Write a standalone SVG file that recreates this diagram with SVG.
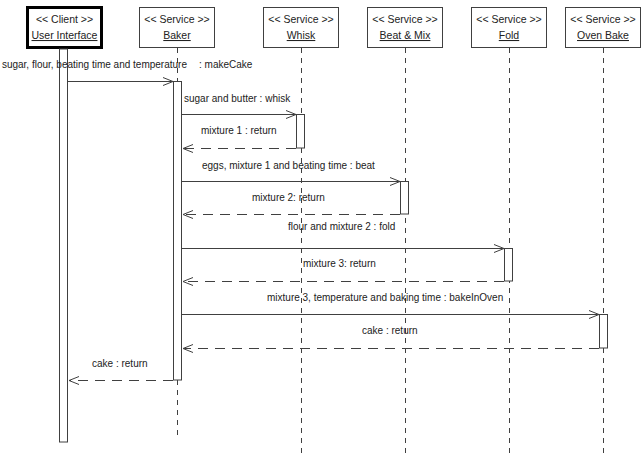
<svg xmlns="http://www.w3.org/2000/svg" width="644" height="464" viewBox="0 0 644 464">
<style>
.box{fill:#fff;stroke:#404040;stroke-width:1}
.cbox{fill:#fff;stroke:#000;stroke-width:3}
.hd{font-family:"Liberation Sans",Arial,sans-serif;font-size:10.5px;fill:#222;text-anchor:middle}
.nm{text-decoration:underline}
.life{stroke:#404040;stroke-width:1;stroke-dasharray:5 5;fill:none}
.act{fill:#fff;stroke:#404040;stroke-width:1}
.msg{stroke:#404040;stroke-width:1;fill:none;marker-end:url(#open)}
.ret{stroke:#404040;stroke-width:1;fill:none;stroke-dasharray:10 7;marker-end:url(#open)}
.lbl{font-family:"Liberation Sans",Arial,sans-serif;font-size:10px;fill:#222}
</style>
<defs>
<marker id="open" markerUnits="userSpaceOnUse" markerWidth="12" markerHeight="10" refX="10" refY="4" orient="auto" overflow="visible">
<path d="M0,0 L10,4 L0,8" fill="none" stroke="#404040" stroke-width="1"/>
</marker>
</defs>
<rect width="644" height="464" fill="#fff"/>

<g id="lifelines">
<line class="life" x1="177.5" y1="48" x2="177.5" y2="81"/>
<line class="life" x1="177.5" y1="380" x2="177.5" y2="440"/>
<line class="life" x1="301.5" y1="48" x2="301.5" y2="457"/>
<line class="life" x1="405.5" y1="48" x2="405.5" y2="457"/>
<line class="life" x1="509.5" y1="48" x2="509.5" y2="457"/>
<line class="life" x1="603.5" y1="48" x2="603.5" y2="457"/>
</g>

<g id="client">
<rect class="cbox" x="27.5" y="7.5" width="74" height="40"/>
<text class="hd" x="64.5" y="23">&lt;&lt; Client &gt;&gt;</text>
<text class="hd nm" x="64.5" y="39">User Interface</text>
<rect class="act" x="59.5" y="49" width="8" height="393"/>
</g>
<g id="baker">
<rect class="box" x="139.5" y="7.5" width="75" height="40"/>
<text class="hd" x="177" y="23">&lt;&lt; Service &gt;&gt;</text>
<text class="hd nm" x="177" y="39">Baker</text>
<rect class="act" x="173.5" y="81.5" width="8" height="298.5"/>
</g>
<g id="whisk">
<rect class="box" x="263.5" y="7.5" width="75" height="40"/>
<text class="hd" x="301" y="23">&lt;&lt; Service &gt;&gt;</text>
<text class="hd nm" x="301" y="39">Whisk</text>
<rect class="act" x="296.5" y="114.5" width="8" height="33.5"/>
</g>
<g id="beatmix">
<rect class="box" x="367.5" y="7.5" width="75" height="40"/>
<text class="hd" x="405" y="23">&lt;&lt; Service &gt;&gt;</text>
<text class="hd nm" x="405" y="39">Beat &amp; Mix</text>
<rect class="act" x="400.5" y="181.5" width="8" height="32.5"/>
</g>
<g id="fold">
<rect class="box" x="471.5" y="7.5" width="75" height="40"/>
<text class="hd" x="509" y="23">&lt;&lt; Service &gt;&gt;</text>
<text class="hd nm" x="509" y="39">Fold</text>
<rect class="act" x="504.5" y="248.5" width="8" height="32.5"/>
</g>
<g id="ovenbake">
<rect class="box" x="565.5" y="7.5" width="75" height="40"/>
<text class="hd" x="603" y="23">&lt;&lt; Service &gt;&gt;</text>
<text class="hd nm" x="603" y="39">Oven Bake</text>
<rect class="act" x="599.5" y="314.5" width="8" height="33.5"/>
</g>

<g id="connectors">
<line class="msg" x1="68" y1="81.5" x2="173" y2="81.5"/>
<line class="msg" x1="182" y1="114.5" x2="296" y2="114.5"/>
<line class="ret" x1="296" y1="148.5" x2="183" y2="148.5"/>
<line class="msg" x1="182" y1="181.5" x2="400" y2="181.5"/>
<line class="ret" x1="400" y1="214.5" x2="183" y2="214.5"/>
<line class="msg" x1="182" y1="248.5" x2="504" y2="248.5"/>
<line class="ret" x1="504" y1="281.5" x2="183" y2="281.5"/>
<line class="msg" x1="182" y1="314.5" x2="599" y2="314.5"/>
<line class="ret" x1="599" y1="348.5" x2="183" y2="348.5"/>
<line class="ret" x1="173" y1="380.5" x2="69" y2="380.5"/>
</g>

<g id="labels">
<text class="lbl" y="68"><tspan x="187" text-anchor="end">sugar, flour, beating time and temperature</tspan><tspan x="199">: makeCake</tspan></text>
<text class="lbl" x="184" y="102">sugar and butter : whisk</text>
<text class="lbl" x="201" y="134">mixture 1 : return</text>
<text class="lbl" x="202" y="169">eggs, mixture 1 and beating time : beat</text>
<text class="lbl" x="252" y="201">mixture 2: return</text>
<text class="lbl" x="288" y="230">flour and mixture 2 : fold</text>
<text class="lbl" x="303" y="267">mixture 3: return</text>
<text class="lbl" x="267" y="301">mixture 3, temperature and baking time : bakeInOven</text>
<text class="lbl" x="362" y="334">cake : return</text>
<text class="lbl" x="92" y="367">cake : return</text>
</g>
</svg>
